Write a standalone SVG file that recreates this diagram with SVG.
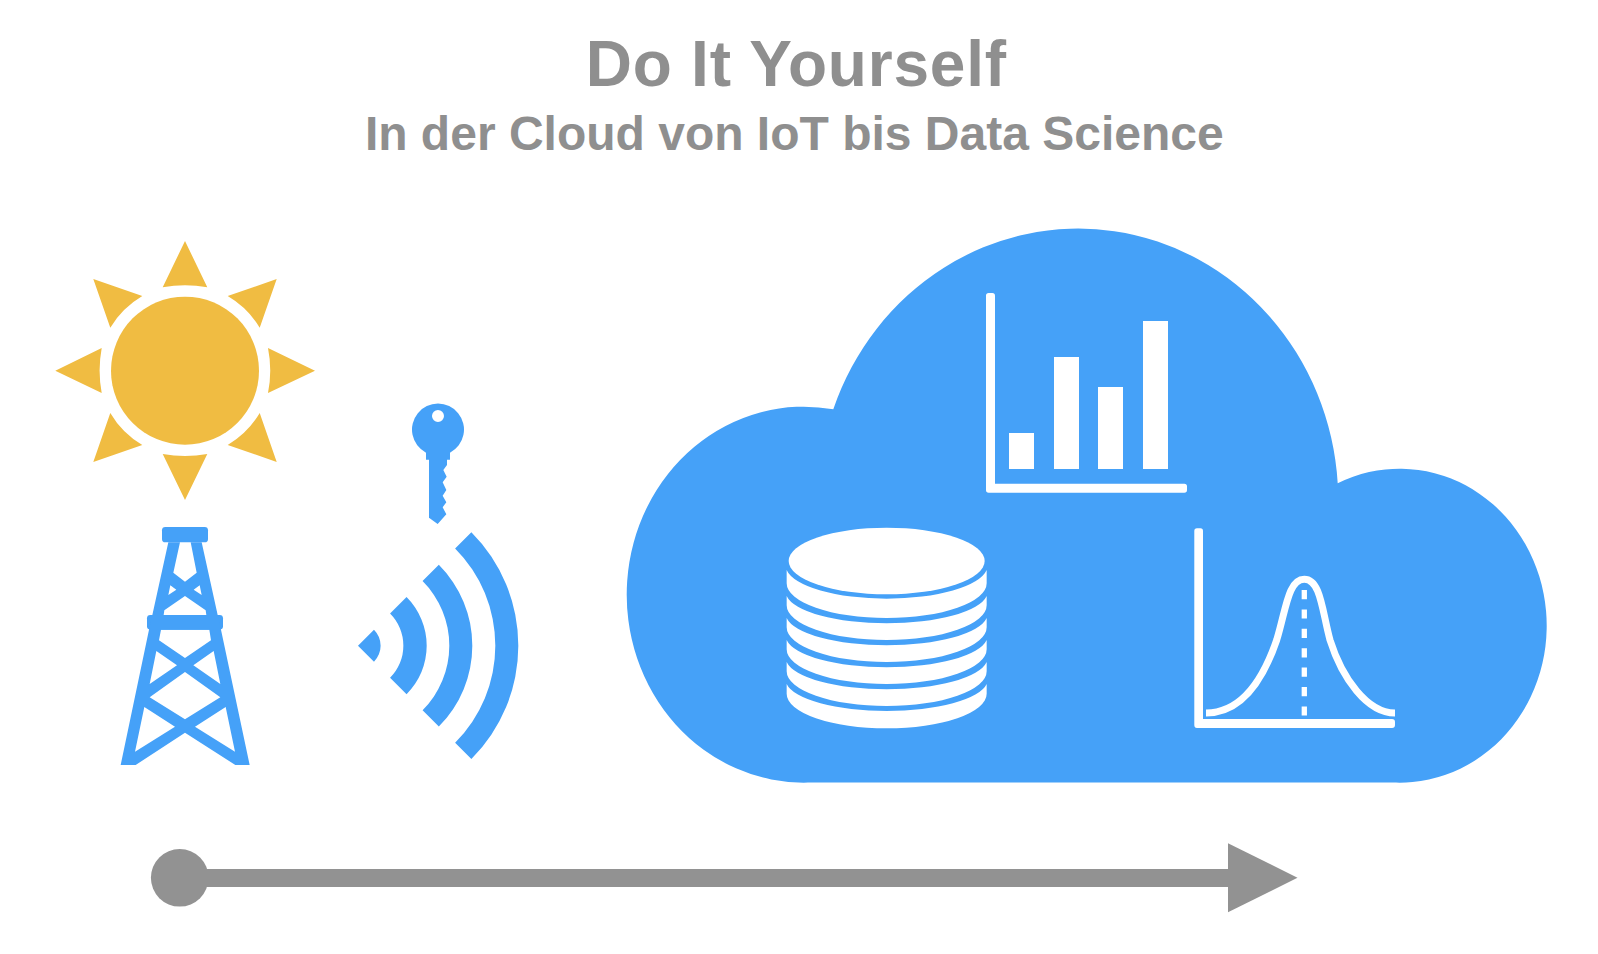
<svg xmlns="http://www.w3.org/2000/svg" width="1598" height="954" viewBox="0 0 1598 954">
<style>
.t{font-family:"Liberation Sans",Arial,sans-serif;font-weight:700;fill:#8f8f8f;text-anchor:middle}
.b{fill:#45a1f8}.w{fill:#fff}.s{fill:#f0bc42}.g{fill:#929292}
</style>
<rect width="1598" height="954" fill="#fff"/>
<g id="title"><text class="t" x="796.300" y="85.500" font-size="64" letter-spacing="0.800">Do It Yourself</text><text class="t" x="794.300" y="150" font-size="48">In der Cloud von IoT bis Data Science</text></g>
<g id="sun"><circle class="s" cx="185" cy="370.700" r="74"/>
<path class="s" d="M185 241 L207.300 287.300 Q185 283 162.700 287.300Z M185 500 L207.300 454 Q185 458 162.700 454Z M55.300 370.700 L101.700 348 Q97.500 370.700 101.700 393Z M315 370.700 L268 348 Q272.500 370.700 268 393Z M93.300 279 L142.300 296 Q122 308 110.300 327.700Z M276.700 279 L227.700 296 Q248 308 259.700 327.700Z M93.300 462 L142.300 445 Q122 433 110.300 413Z M276.700 462 L227.700 445 Q248 433 259.700 413Z"/></g>
<g id="tower" transform="translate(100 500) scale(.33333)">
<rect class="b" x="186" y="81" width="138" height="46" rx="10"/>
<rect class="b" x="141" y="345" width="228" height="44" rx="10"/>
<path class="b" fill-rule="evenodd" d="M205 127 L157 345 L147 389 L62 795 L107 795 L255 698 L406 795 L449 795 L363 389 L353 345 L305 127Z
M240 127 L272 127 L290 218 L255 245 L220 218Z
M211 256 L229 269 L205 285Z M299 256 L281 269 L305 285Z
M255 288 L317 331 L319 345 L191 345 L193 331Z
M183 389 L328 389 L333 421 L255 474 L177 421Z
M169 453 L231 496 L149 552Z M341 453 L280 496 L361 552Z
M255 516 L361 592 L255 658 L149 592Z
M133 621 L225 680 L105 755Z M377 621 L285 680 L405 755Z"/>
</g>
<g id="key" transform="translate(340 385) scale(.33333)">
<path class="b" fill-rule="evenodd" d="M258 203 A78 78 0 1 1 330 203 L330 224 L321 224 L321 240 L310 255 L320 275 L308 292 L319 315 L308 332 L319 352 L308 367 L319 388 L293 417 L267 398 L267 224 L258 224Z M312 93 A18 18 0 1 0 276 93 A18 18 0 1 0 312 93Z"/>
</g>
<g id="wifi" transform="translate(340 385) scale(.33333)">
<path class="b" d="M54 782 L102 734 A68 68 0 0 1 102 830Z
M150.200 685.800 L199.700 636.300 A206 206 0 0 1 199.700 927.700 L150.200 878.200 A136 136 0 0 0 150.200 685.800Z
M247.700 588.300 L296.500 539.500 A343 343 0 0 1 296.500 1024.500 L247.700 975.700 A274 274 0 0 0 247.700 588.300Z
M345.300 490.700 L394.100 441.900 A481 481 0 0 1 394.100 1122.100 L345.300 1073.300 A412 412 0 0 0 345.300 490.700Z"/>
</g>
<g id="cloud">
<path class="b" d="M808 782.600 A177 188 0 1 1 833.300 409.300 A260 272 0 0 1 1337.700 483.300 A147 157 0 1 1 1396 782.600Z"/>
</g>
<g id="bar-chart" transform="translate(970 280) scale(.33333)">
<path class="w" d="M56 39 H67 Q75 39 75 47 V611 H643 Q651 611 651 619 V630 Q651 638 643 638 H56 Q48 638 48 630 V47 Q48 39 56 39Z"/>
<rect class="w" x="117" y="459" width="75" height="108"/>
<rect class="w" x="252" y="231" width="75" height="336"/>
<rect class="w" x="384" y="321" width="75" height="246"/>
<rect class="w" x="519" y="123" width="75" height="444"/>
</g>
<g id="database" transform="translate(760 500) scale(.33333)">
<ellipse class="w" cx="380" cy="183" rx="294" ry="100"/>
<path class="w" d="M80 210 A303 100 0 0 0 680 210 V250 A300 104 0 0 1 80 250Z"/>
<path class="w" d="M80 288 A303 95.500 0 0 0 680 288 V316 A300 104 0 0 1 80 316Z"/>
<path class="w" d="M80 354 A303 95.500 0 0 0 680 354 V382 A300 104 0 0 1 80 382Z"/>
<path class="w" d="M80 420 A303 95.500 0 0 0 680 420 V448 A300 104 0 0 1 80 448Z"/>
<path class="w" d="M80 486 A303 95.500 0 0 0 680 486 V514 A300 104 0 0 1 80 514Z"/>
<path class="w" d="M80 552 A303 94 0 0 0 680 552 V581 A300 104 0 0 1 80 581Z"/>
</g>
<g id="curve-chart">
<path class="w" d="M1197 528.300 H1200.500 Q1203 528.300 1203 531 V719 H1392 Q1395 719 1395 722 V725 Q1395 728 1392 728 H1197 Q1194.300 728 1194.300 725 V531 Q1194.300 528.300 1197 528.300Z"/>
<path fill="none" stroke="#fff" stroke-width="7" d="M1206 713 C1240 713 1262 683 1276.700 640 C1286 610 1288 579.300 1304.300 579.300 C1320.500 579.300 1322 610 1330 640 C1342 678 1367 713 1395 713"/>
<line x1="1304.300" y1="590" x2="1304.300" y2="719" stroke="#fff" stroke-width="5.300" stroke-dasharray="9.200 10.200"/>
</g>
<g id="connectors">
<circle class="g" cx="179.700" cy="877.800" r="28.800"/>
<rect class="g" x="200" y="869" width="1030" height="18"/>
<path class="g" d="M1228 843.300 L1297.500 877.700 L1228 912.300Z"/>
</g>
</svg>
